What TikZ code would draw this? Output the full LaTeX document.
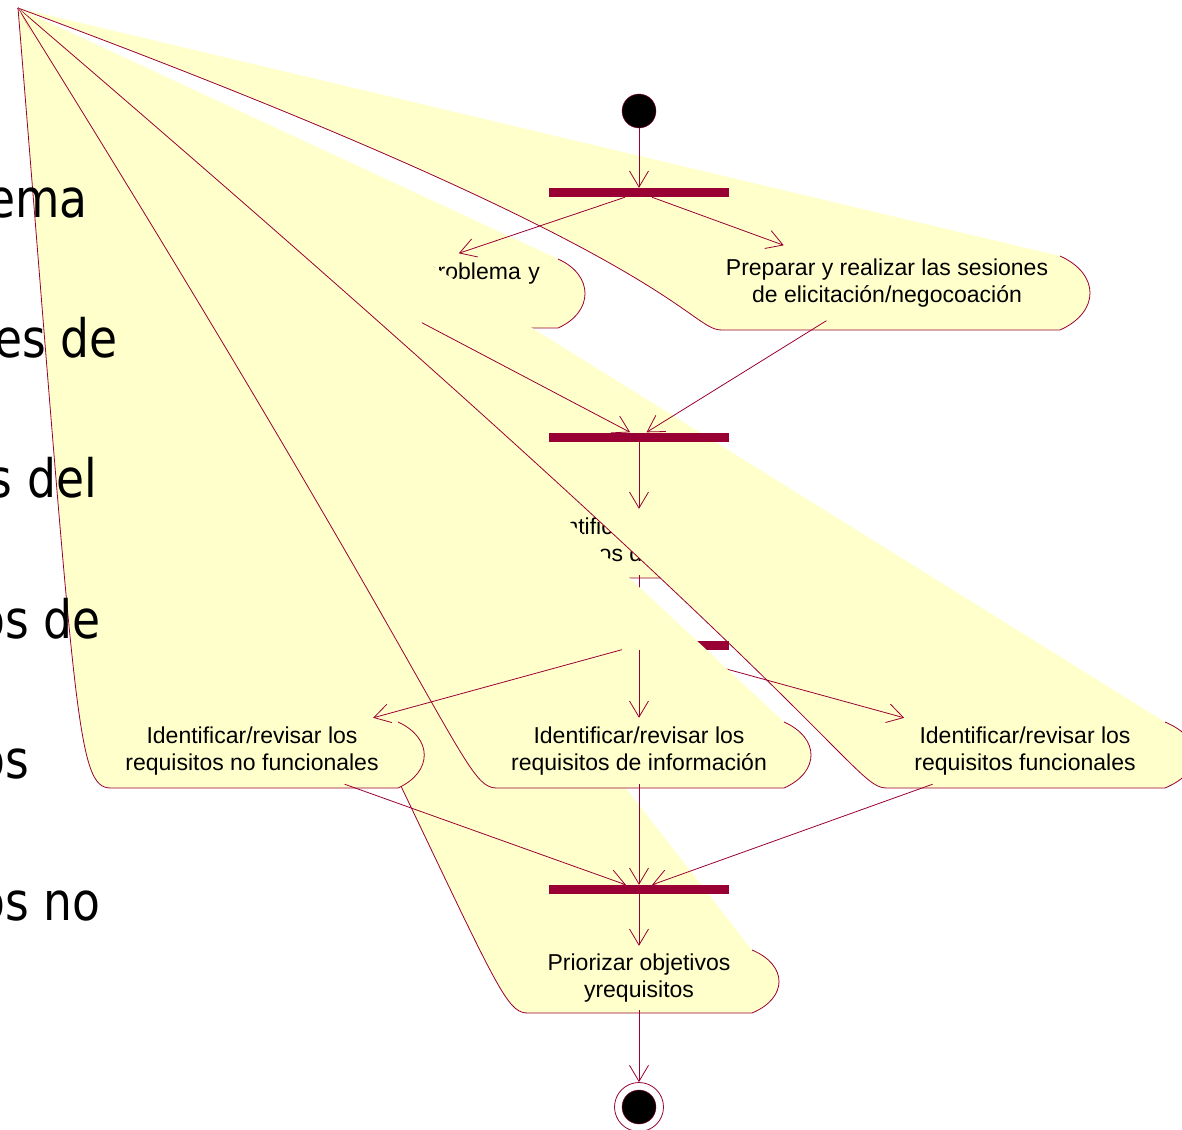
\documentclass[tikz,border=0pt]{standalone}
\usepackage{fontspec}
\setmainfont{Liberation Sans}
\newfontfamily\slidefont[FakeStretch=0.86]{DejaVu Sans}
\usetikzlibrary{arrows.meta}
\definecolor{rosered}{HTML}{990033}
\definecolor{actyellow}{HTML}{FFFFCC}
\begin{document}
\begin{tikzpicture}[x=1pt, y=-1pt,
  act/.style={draw=rosered, fill=actyellow, line width=0.8pt},
  acttext/.style={align=center, inner sep=0pt, font=\fontsize{23}{26.5}\selectfont},
  bar/.style={fill=rosered, minimum width=180pt, minimum height=9pt, inner sep=0pt},
  arr/.style={draw=rosered, line width=0.8pt, -{Straight Barb[length=16pt,width=19pt]}},
  slide/.style={font=\slidefont\fontsize{53}{60}\selectfont, inner sep=0pt, anchor=base east}]
\useasboundingbox (0,0) rectangle (1182,1129);
\coordinate (apex) at (18,8);
% activities, left end pulled up to the apex
\path[act] (558,259) .. controls (594,275) and (594,312) .. (558,328) -- (190,328) .. controls (155,328) and (155,259) .. (apex);
\node[acttext, minimum width=396pt, minimum height=69pt, text width=368pt, align=right] (act1) at (356,288) {problema y\\\strut};
\path[act] (1060,256) .. controls (1100,274) and (1100,312) .. (1060,330) -- (722,330) .. controls (687,330) and (687,256) .. (apex);
\node[acttext, minimum width=400pt, minimum height=75pt] (act2) at (887,283) {Preparar y realizar las sesiones\\de elicitación/negocoación};
\path[act] (752,950) .. controls (788,965) and (788,998) .. (752,1013) -- (528,1013) .. controls (493,1013) and (493,950) .. (apex);
\node[acttext, minimum width=286pt, minimum height=64pt] (act7) at (639,978) {Priorizar objetivos\\yrequisitos};
\path[act] (790,512) .. controls (826,527) and (826,563) .. (790,578) -- (510,578) .. controls (475,578) and (475,512) .. (apex);
\node[acttext, minimum width=330pt, minimum height=66pt] (act3) at (639,542) {Identificar/revisar los\\objetivos del sistema};
\path[act] (1165,722) .. controls (1205,739) and (1205,771) .. (1165,788) -- (887,788) .. controls (852,788) and (852,722) .. (apex);
\node[acttext, minimum width=350pt, minimum height=66pt] (act6) at (1025,751) {Identificar/revisar los\\requisitos funcionales};
% start, first fork and join
\node[circle, fill=black, draw=rosered, minimum size=34pt, inner sep=0pt] (ini) at (639,111) {};
\node[bar] (bar0) at (639,192.5) {};
\node[bar] (bar1) at (639,437) {};
\draw[arr] (ini) -- (bar0);
\draw[arr] (bar0) -- (act1);
\draw[arr] (bar0) -- (act2);
\draw[arr] (act1) -- (bar1);
\draw[arr] (act2) -- (bar1);
\draw[arr] (bar1) -- (act3);
\node[bar] (bar2) at (639,645) {};
\draw[arr] (act3) -- (bar2);
\draw[arr] (bar2) -- (act6);
\path[act] (784,722) .. controls (820,738) and (820,772) .. (784,788) -- (497,788) .. controls (462,788) and (462,722) .. (apex);
\node[acttext, minimum width=350pt, minimum height=66pt] (act5) at (639,751) {Identificar/revisar los\\requisitos de información};
\path[act] (398,722) .. controls (433,738) and (433,772) .. (398,788) -- (111,788) .. controls (76,788) and (76,722) .. (apex);
\node[acttext, minimum width=350pt, minimum height=66pt] (act4) at (252,751) {Identificar/revisar los\\requisitos no funcionales};
\draw[arr] (bar2) -- (act4);
\draw[arr] (bar2) -- (act5);
% last join and end
\node[bar] (bar3) at (639,889.5) {};
\draw[arr] (act4) -- (bar3);
\draw[arr] (act5) -- (bar3);
\draw[arr] (act6) -- (bar3);
\draw[arr] (bar3) -- (act7);
\node[circle, draw=rosered, fill=white, line width=0.8pt, minimum size=49pt, inner sep=0pt] (fin) at (639,1107) {};
\node[circle, fill=black, draw=rosered, minimum size=34pt, inner sep=0pt] (findot) at (639,1107) {};
\draw[arr] (act7) -- (fin);
% slide text behind
\node[slide] (sl1) at (88,217) {ema};
\node[slide] (sl2) at (118,357) {es de};
\node[slide] (sl3) at (97,497) {s del};
\node[slide] (sl4) at (101,638) {os de};
\node[slide] (sl5) at (29,778) {os};
\node[slide] (sl6) at (101,920) {os no};
\end{tikzpicture}
\end{document}
